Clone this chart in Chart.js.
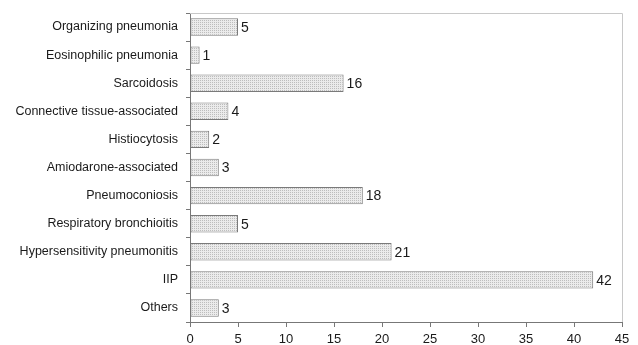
<!DOCTYPE html>
<html>
<head>
<meta charset="utf-8">
<script src="https://cdn.jsdelivr.net/npm/chart.js@4/dist/chart.umd.min.js"></script>
<style>
  html, body { margin: 0; padding: 0; background: #fff; }
  #wrap { width: 638px; height: 345px; }
</style>
</head>
<body>
<div id="wrap"><canvas id="graf"></canvas></div>
<script>
const categorias = [
  'Organizing pneumonia',
  'Eosinophilic pneumonia',
  'Sarcoidosis',
  'Connective tissue-associated',
  'Histiocytosis',
  'Amiodarone-associated',
  'Pneumoconiosis',
  'Respiratory bronchioitis',
  'Hypersensitivity pneumonitis',
  'IIP',
  'Others'
];
const casos = [5, 1, 16, 4, 2, 3, 18, 5, 21, 42, 3];
const ejeX = { min: 0, max: 45, step: 5 };

// relleno punteado de las barras
function patron() {
  const c = document.createElement('canvas');
  c.width = 2; c.height = 2;
  const g = c.getContext('2d');
  g.fillStyle = '#ebebeb';
  g.fillRect(0, 0, 2, 2);
  g.fillStyle = '#bdbdbd';
  g.fillRect(0, 0, 1, 1);
  return g.createPattern(c, 'repeat');
}

// numeros al final de cada barra + marco superior/derecho
const etiquetas = {
  id: 'etiquetas',
  beforeDatasetsDraw(chart) {
    const { ctx, chartArea } = chart;
    ctx.save();
    ctx.strokeStyle = '#c8c8c8';
    ctx.lineWidth = 1;
    ctx.beginPath();
    ctx.moveTo(chartArea.left, chartArea.top + 0.5);
    ctx.lineTo(chartArea.right + 0.5, chartArea.top + 0.5);
    ctx.lineTo(chartArea.right + 0.5, chartArea.bottom);
    ctx.stroke();
    ctx.restore();
  },
  afterDatasetsDraw(chart) {
    const { ctx } = chart;
    const meta = chart.getDatasetMeta(0);
    ctx.save();
    ctx.font = '14px "Liberation Sans", Arial, sans-serif';
    ctx.fillStyle = '#1a1a1a';
    ctx.textAlign = 'left';
    ctx.textBaseline = 'middle';
    meta.data.forEach((bar, i) => {
      ctx.fillText(String(casos[i]), bar.x + 3, bar.y + 1);
    });
    ctx.restore();
  }
};

const ctx = document.getElementById('graf').getContext('2d');
new Chart(ctx, {
  type: 'bar',
  data: {
    labels: categorias,
    datasets: [{
      data: casos,
      backgroundColor: patron(),
      borderColor: '#7a7a7a',
      borderWidth: 1,
      borderSkipped: false,
      barPercentage: 0.62,
      categoryPercentage: 1
    }]
  },
  options: {
    indexAxis: 'y',
    responsive: true,
    maintainAspectRatio: false,
    animation: false,
    layout: { padding: { top: 13, right: 16, left: 0, bottom: 0 } },
    scales: {
      x: {
        min: ejeX.min,
        max: ejeX.max,
        ticks: {
          stepSize: ejeX.step,
          color: '#1a1a1a',
          font: { family: '"Liberation Sans", Arial, sans-serif', size: 13 },
          padding: 5
        },
        grid: { drawOnChartArea: false, tickLength: 5, color: '#777' },
        border: { color: '#777' },
        afterFit(scale) { scale.height = 23; scale.paddingLeft = 0; scale.paddingRight = 0; }
      },
      y: {
        ticks: {
          color: '#1a1a1a',
          font: { family: '"Liberation Sans", Arial, sans-serif', size: 12.5 },
          padding: 8
        },
        grid: { drawOnChartArea: false, tickLength: 4, offset: true, color: '#777' },
        border: { color: '#777' },
        afterFit(scale) { scale.width = 190; scale.paddingTop = 0; scale.paddingBottom = 0; }
      }
    },
    plugins: {
      legend: { display: false },
      tooltip: { enabled: false }
    }
  },
  plugins: [etiquetas]
});
</script>
</body>
</html>
